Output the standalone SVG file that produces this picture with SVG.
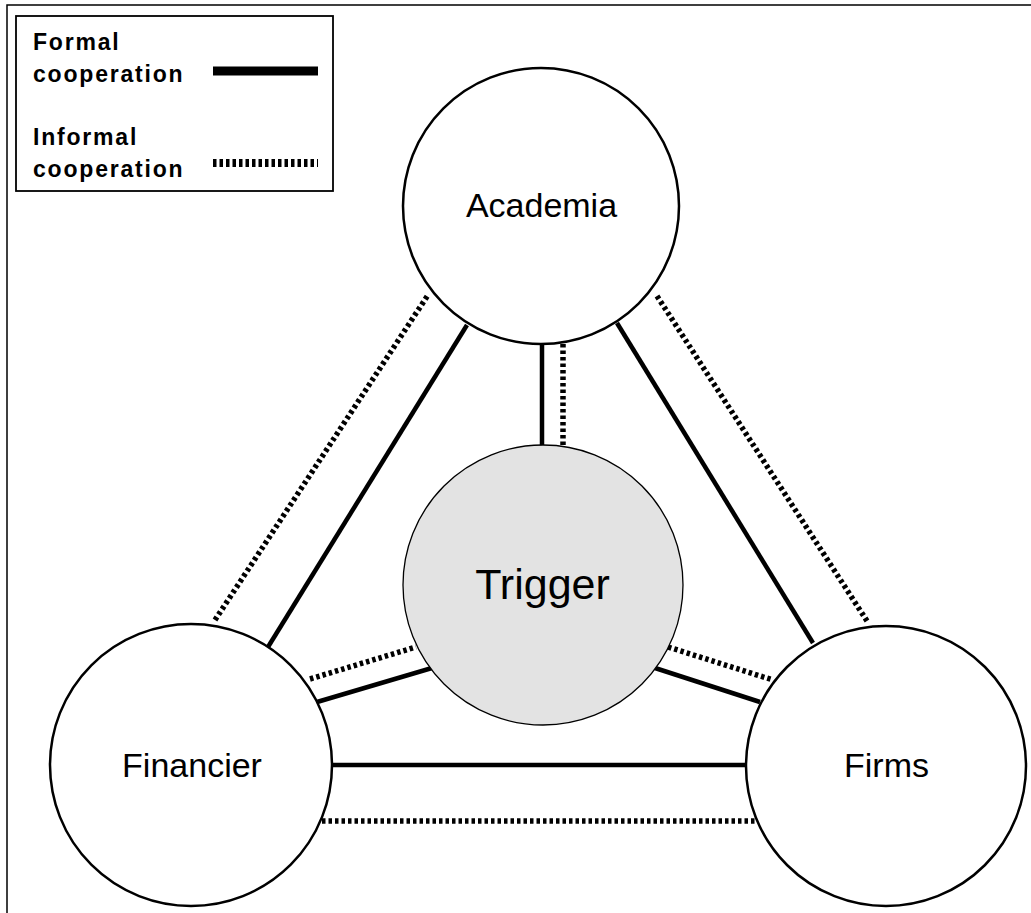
<svg xmlns="http://www.w3.org/2000/svg" width="1031" height="913" viewBox="0 0 1031 913">
  <style>
    .frame { fill: none; stroke: #000; stroke-width: 1.5; }
    .formal { stroke: #000; stroke-width: 4.5; fill: none; }
    .informal { stroke: #000; stroke-width: 5.5; fill: none; stroke-dasharray: 3.5 3; }
    .actor { fill: #fff; stroke: #000; stroke-width: 2.5; }
    .hub { fill: #e3e3e3; stroke: #000; stroke-width: 1.3; }
    .label { font-family: "Liberation Sans", Arial, sans-serif; font-size: 34px; fill: #000; text-anchor: middle; }
    .hub-label { font-family: "Liberation Sans", Arial, sans-serif; font-size: 43px; fill: #000; text-anchor: middle; }
    .legend-text { font-family: "Liberation Sans", Arial, sans-serif; font-size: 23px; font-weight: bold; letter-spacing: 1.8px; fill: #000; }
  </style>

  <rect width="1031" height="913" fill="#fff"/>
  <!-- page frame (top and left edges) -->
  <path class="frame" d="M7,913 V5 H1031"/>

  <!-- legend -->
  <g id="legend">
    <rect x="16" y="16" width="317" height="175" fill="#fff" stroke="#000" stroke-width="1.8"/>
    <text class="legend-text" x="33" y="50">Formal</text>
    <text class="legend-text" x="33" y="82">cooperation</text>
    <line x1="213" y1="71" x2="318" y2="71" stroke="#000" stroke-width="9"/>
    <text class="legend-text" x="33" y="145">Informal</text>
    <text class="legend-text" x="33" y="177">cooperation</text>
    <line x1="213" y1="163" x2="318" y2="163" stroke="#000" stroke-width="8" stroke-dasharray="3.5 3"/>
  </g>

  <!-- connectors: formal (solid) and informal (dotted) ties -->
  <g id="connectors">
    <line class="formal" x1="268" y1="647" x2="467" y2="325"/>
    <line class="informal" x1="215" y1="620" x2="428" y2="295"/>
    <line class="formal" x1="617" y1="323" x2="813" y2="643"/>
    <line class="informal" x1="657" y1="296" x2="867" y2="621"/>
    <line class="formal" x1="542" y1="345" x2="542" y2="446"/>
    <line class="informal" x1="563" y1="344" x2="563" y2="446"/>
    <line class="formal" x1="317" y1="702" x2="432" y2="668"/>
    <line class="informal" x1="310" y1="679" x2="416" y2="647"/>
    <line class="formal" x1="655" y1="668" x2="760" y2="702"/>
    <line class="informal" x1="668" y1="647" x2="773" y2="680"/>
    <line class="formal" x1="332" y1="765" x2="747" y2="765"/>
    <line class="informal" x1="322" y1="821" x2="755" y2="821"/>
  </g>

  <g id="academia">
    <circle class="actor" cx="541" cy="206" r="138"/>
    <text class="label" x="541.5" y="217">Academia</text>
  </g>

  <g id="trigger">
    <circle class="hub" cx="543" cy="585" r="140"/>
    <text class="hub-label" x="542.5" y="599">Trigger</text>
  </g>

  <g id="financier">
    <circle class="actor" cx="191" cy="765" r="141"/>
    <text class="label" x="192" y="777">Financier</text>
  </g>

  <g id="firms">
    <circle class="actor" cx="886" cy="766" r="140"/>
    <text class="label" x="886.5" y="777">Firms</text>
  </g>
</svg>
